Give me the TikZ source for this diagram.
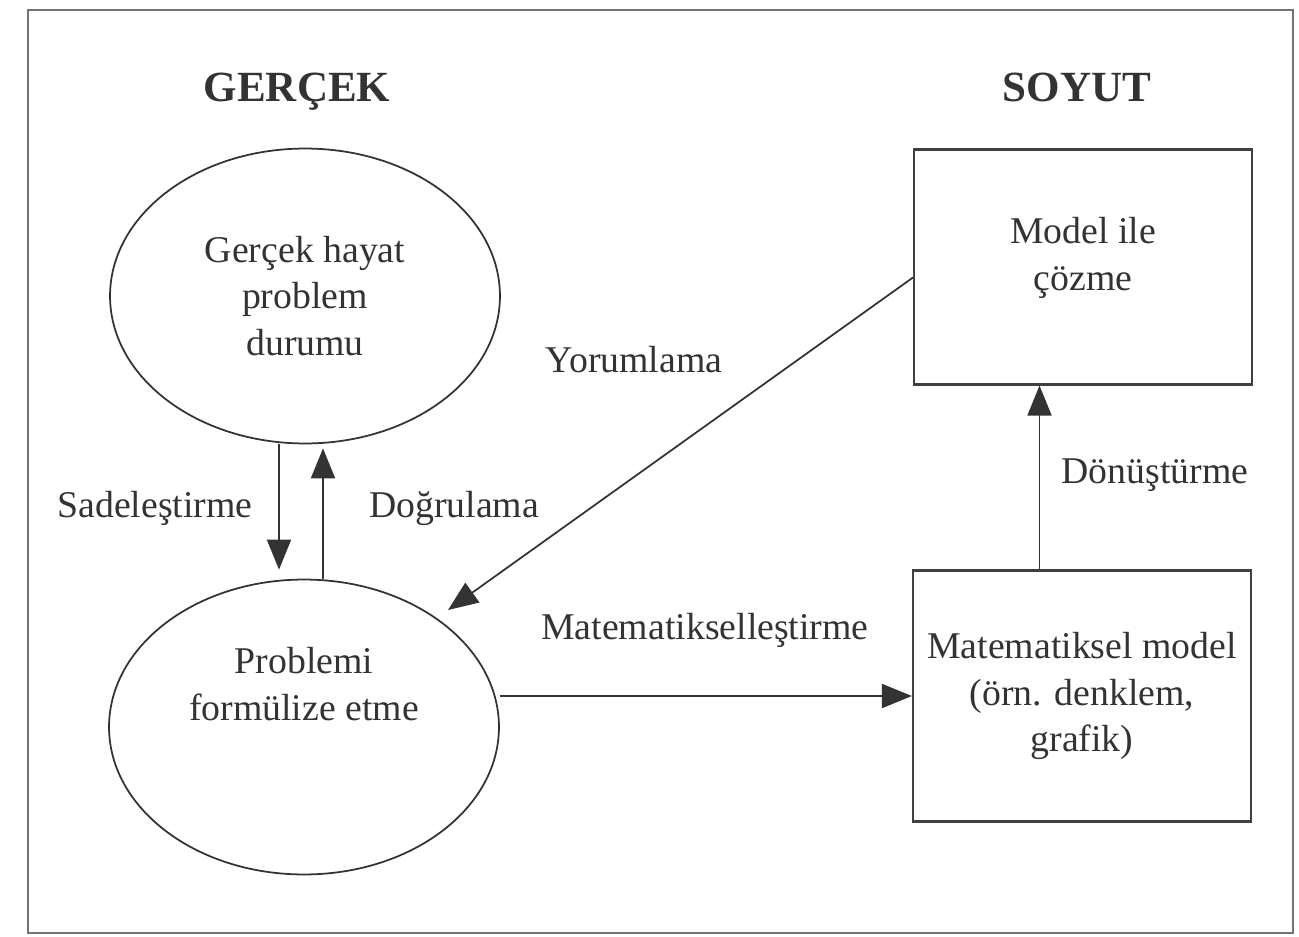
\documentclass[tikz,border=0pt]{standalone}
\usepackage{fontspec}
\setmainfont{Liberation Serif}
\usetikzlibrary{shapes.geometric,arrows.meta}
\newcommand{\boxFont}[0]{\fontsize{21.5}{26.5}\selectfont}
\newcommand{\headFont}[0]{\fontsize{24.5}{29}\selectfont\bfseries}

\begin{document}
\begin{tikzpicture}[x=0.02cm, y=-0.02cm, >={Triangle[length=0.6cm,width=0.48cm]}]
  \tikzset{every node/.style={font=\boxFont,text=black!80,align=center},
    oval/.style={ellipse,draw=black!80,line width=1pt,minimum width=7.8cm,minimum height=5.9cm},
    box/.style={rectangle,draw=black!75,line width=1.2pt,minimum width=6.76cm},
    link/.style={draw=black!80,line width=1pt}}
  \useasboundingbox (0,0) rectangle (1299,937);
  \draw[black!55, line width=1.4pt] (28,10) rectangle (1293,933);
  \node[font=\headFont,anchor=base] (T-1) at (297,101) {GERÇEK};
  \node[font=\headFont,anchor=base] (T-2) at (1077,101) {SOYUT};
  \node[oval] (E-1) at (305,296) {Gerçek hayat\\problem\\durumu};
  \node[oval] (E-2) at (304,727) {};
  \node (E-2-text) at (304,684) {Problemi\\formülize etme};
  \node[box,minimum height=4.7cm] (B-1) at (1083,267) {};
  \node (B-1-text) at (1083,258) {Model ile\\çözme};
  \node[box,minimum height=5.02cm] (B-2) at (1082,696) {Matematiksel model\\(örn. denklem,\\grafik)};
  \node (A-1) at (155,508) {Sadeleştirme};
  \node (A-2) at (454,508) {Doğrulama};
  \node (A-3) at (634,360) {Yorumlama};
  \node (A-4) at (705,630) {Matematikselleştirme};
  \node (A-5) at (1155,475) {Dönüştürme};
  \coordinate (Y-end) at (448,610);
  \draw[link,->,shorten >=0.18cm] ([xshift=-0.52cm]E-1.south) -- ([xshift=-0.52cm]E-1.south |- E-2.north);
  \draw[link,->,shorten >=0.08cm] ([xshift=0.38cm]E-2.north) -- ([xshift=0.38cm]E-2.north |- E-1.south);
  \draw[link,->] ([yshift=-0.21cm]B-1.west) -- (Y-end);
  \draw[link,->] (E-2.east |- B-2.west) -- (B-2.west);
  \draw[link,->] ([xshift=-0.85cm]B-2.north) -- ([xshift=-0.85cm]B-2.north |- B-1.south);
\end{tikzpicture}
\end{document}
